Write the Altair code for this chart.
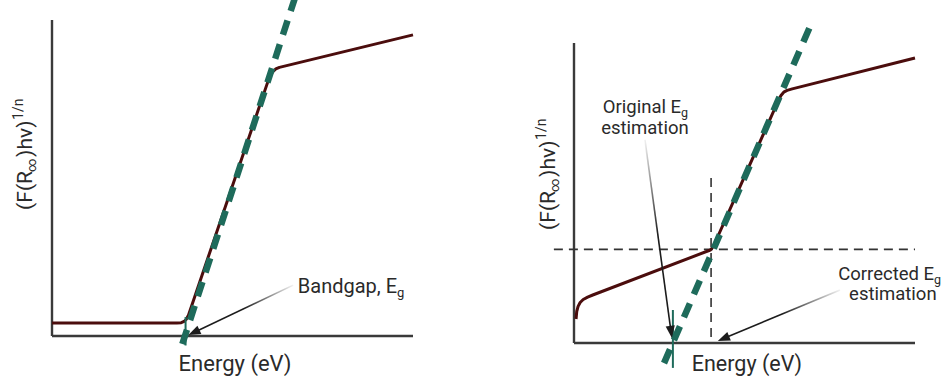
import math
import altair as alt
import pandas as pd

# ---------------- data (axis units are arbitrary, 0..10 on both axes) ----------------
# Left: ordinary Tauc plot with a flat baseline
left_curve_x = [0.0, 3.46, 3.58, 3.66, 3.72, 3.78, 5.98, 6.05, 6.12, 6.20, 6.30, 10.0]
left_curve_y = [0.41, 0.41, 0.42, 0.46, 0.53, 0.66, 8.05, 8.25, 8.37, 8.45, 8.50, 9.53]
left_fit_x = [3.61, 6.73]
left_fit_y = [-0.25, 10.70]
left_eg = 3.70

# Right: Tauc plot with a sloping sub-gap absorption baseline
right_curve_x = [0.06, 0.08, 0.12, 0.18, 0.27, 0.40, 0.55, 4.00, 4.06, 4.12,
                 6.00, 6.07, 6.15, 6.25, 6.40, 10.0]
right_curve_y = [0.80, 1.05, 1.22, 1.35, 1.45, 1.53, 1.60, 3.10, 3.18, 3.30,
                 8.10, 8.25, 8.36, 8.42, 8.47, 9.50]
right_fit_x = [2.64, 6.98]
right_fit_y = [-0.67, 10.70]
right_eg_original = 2.90
right_eg_corrected = 4.02
right_onset_y = 3.12

x_title = "Energy (eV)"

# ---------------- styling ----------------
FONT = "Roboto"
TEXT = "#2a2a2a"
AXIS = "#3a3a3a"
CURVE = "#4b0d0d"
TEAL = "#1e6b5b"

# pixel frame of each panel's axes box (panel width/height, axis ends)
LEFT = dict(w=477, h=387, x0=52, x1=413, yb=336, yt=20)
RIGHT = dict(w=470, h=387, x0=97, x1=438, yb=343, yt=43)


class Panel:
    def __init__(self, f):
        self.f = f
        self.kx = (f["x1"] - f["x0"]) / 10.0
        self.ky = (f["yb"] - f["yt"]) / 10.0
        xdom = [-f["x0"] / self.kx, (f["w"] - f["x0"]) / self.kx]
        ydom = [(f["yb"] - f["h"]) / self.ky, f["yb"] / self.ky]
        self.xs = alt.Scale(domain=xdom, zero=False, nice=False)
        self.ys = alt.Scale(domain=ydom, zero=False, nice=False)
        self.layers = []

    def enc(self, chart, x="x", y="y", x2=None, y2=None, **kw):
        e = dict(x=alt.X(f"{x}:Q", scale=self.xs, axis=None),
                 y=alt.Y(f"{y}:Q", scale=self.ys, axis=None))
        if x2:
            e["x2"] = alt.X2(f"{x2}:Q")
        if y2:
            e["y2"] = alt.Y2(f"{y2}:Q")
        e.update(kw)
        return chart.encode(**e)

    def add(self, layer):
        self.layers.append(layer)

    def axes(self):
        df = pd.DataFrame({"x": [0, 0], "y": [0, 0], "x2": [0, 10], "y2": [10, 0]})
        self.add(self.enc(alt.Chart(df).mark_rule(color=AXIS, strokeWidth=2.4),
                          x2="x2", y2="y2"))

    def line(self, xs, ys, **mk):
        df = pd.DataFrame({"x": xs, "y": ys, "o": list(range(len(xs)))})
        self.add(self.enc(alt.Chart(df).mark_line(strokeJoin="round", **mk),
                          order="o:Q"))

    def segment(self, x, y, x2, y2, **mk):
        df = pd.DataFrame({"x": [x], "y": [y], "x2": [x2], "y2": [y2]})
        self.add(self.enc(alt.Chart(df).mark_rule(**mk), x2="x2", y2="y2"))

    def text(self, x, y, t, size, align="left", dx=0, dy=0, angle=0):
        df = pd.DataFrame({"x": [x], "y": [y], "t": [t]})
        mk = dict(align=align, baseline="alphabetic", font=FONT, fontSize=size,
                  color=TEXT, dx=dx, dy=dy)
        if angle:
            mk["angle"] = angle
        self.add(self.enc(alt.Chart(df).mark_text(**mk), text="t:N"))

    def arrow(self, sx, sy, tx, ty, grad):
        # direction on screen
        dxp = (tx - sx) * self.kx
        dyp = -(ty - sy) * self.ky
        L = math.hypot(dxp, dyp)
        ux, uy = dxp / L, dyp / L
        head = 6
        cx = tx - head * ux / self.kx
        cy = ty + head * uy / self.ky
        ang = math.degrees(math.atan2(dxp, -dyp)) % 360
        stroke = alt.LinearGradient(
            gradient="linear",
            stops=[alt.GradientStop(color="#f2f2f2", offset=0),
                   alt.GradientStop(color="#1c1c1c", offset=0.5),
                   alt.GradientStop(color="#1c1c1c", offset=1)],
            x1=grad[0], y1=grad[1], x2=grad[2], y2=grad[3])
        self.line([sx, cx], [sy, cy], stroke=stroke, strokeWidth=1.6)
        df = pd.DataFrame({"x": [cx], "y": [cy], "a": [ang]})
        self.add(self.enc(
            alt.Chart(df).mark_point(shape="M0,-1L0.75,1L-0.75,1Z", filled=True,
                                     size=150, color="#1c1c1c", opacity=1),
            angle=alt.Angle("a:Q", scale=None)))

    def ytitle(self, x, y):
        self.text(x, y, "(F(R", 21, dx=0, angle=270)
        self.text(x, y, "\u221e", 13, dx=38, dy=4, angle=270)
        self.text(x, y, ")hv)", 21, dx=53, angle=270)
        self.text(x, y, "1/n", 14, dx=90, dy=-9, angle=270)

    def chart(self):
        return alt.layer(*self.layers).properties(width=self.f["w"], height=self.f["h"])


fit_style = dict(color=TEAL, strokeWidth=6.5, strokeDash=[15, 10], strokeCap="butt")
curve_style = dict(color=CURVE, strokeWidth=3)
guide_style = dict(color="#333333", strokeWidth=1.6, strokeDash=[9, 6])

# ---------------- left panel ----------------
L = Panel(LEFT)
L.axes()
L.line(left_curve_x, left_curve_y, **curve_style)
L.line(left_fit_x, left_fit_y, clip=True, **fit_style)
L.segment(left_eg, 0.6, left_eg, -0.3, color=TEAL, strokeWidth=2)
L.arrow(6.68, 1.61, left_eg + 0.08, 0.03, (1, 0, 0, 1))
L.text(9.56, 1.36, "Bandgap, E", 20, align="right")
L.text(9.56, 1.36, "g", 13, dy=4)
L.text(5.07, -1.11, x_title, 22, align="center")
L.ytitle(-0.55, 3.99)

# ---------------- right panel ----------------
R = Panel(RIGHT)
R.axes()
R.segment(-0.59, right_onset_y, 10, right_onset_y, **guide_style)
R.segment(right_eg_corrected, 5.5, right_eg_corrected, 0, **guide_style)
R.line(right_curve_x, right_curve_y, **curve_style)
R.line(right_fit_x, right_fit_y, **fit_style)
R.segment(right_eg_original, 1.1, right_eg_original, -0.83, color=TEAL, strokeWidth=2)
R.arrow(2.08, 6.77, right_eg_original - 0.03, 0.17, (0, 0, 1, 1))
R.arrow(7.80, 1.77, right_eg_corrected + 0.2, 0.07, (1, 0, 0, 1))
R.text(3.14, 7.67, "Original E", 18.5, align="right")
R.text(3.14, 7.67, "g", 12.5, dy=4)
R.text(2.08, 6.97, "estimation", 18.5, align="center")
R.text(10.56, 2.10, "Corrected E", 18.5, align="right")
R.text(10.56, 2.10, "g", 12.5, dy=4)
R.text(9.35, 1.43, "estimation", 18.5, align="center")
R.text(5.07, -0.93, x_title, 21.5, align="center")
R.ytitle(-0.56, 3.77)

chart = alt.hconcat(L.chart(), R.chart(), spacing=0).properties(
    padding=0, background="white"
).configure_view(strokeWidth=0)

chart.save("out.html", embed_options={"renderer": "svg", "actions": False})
